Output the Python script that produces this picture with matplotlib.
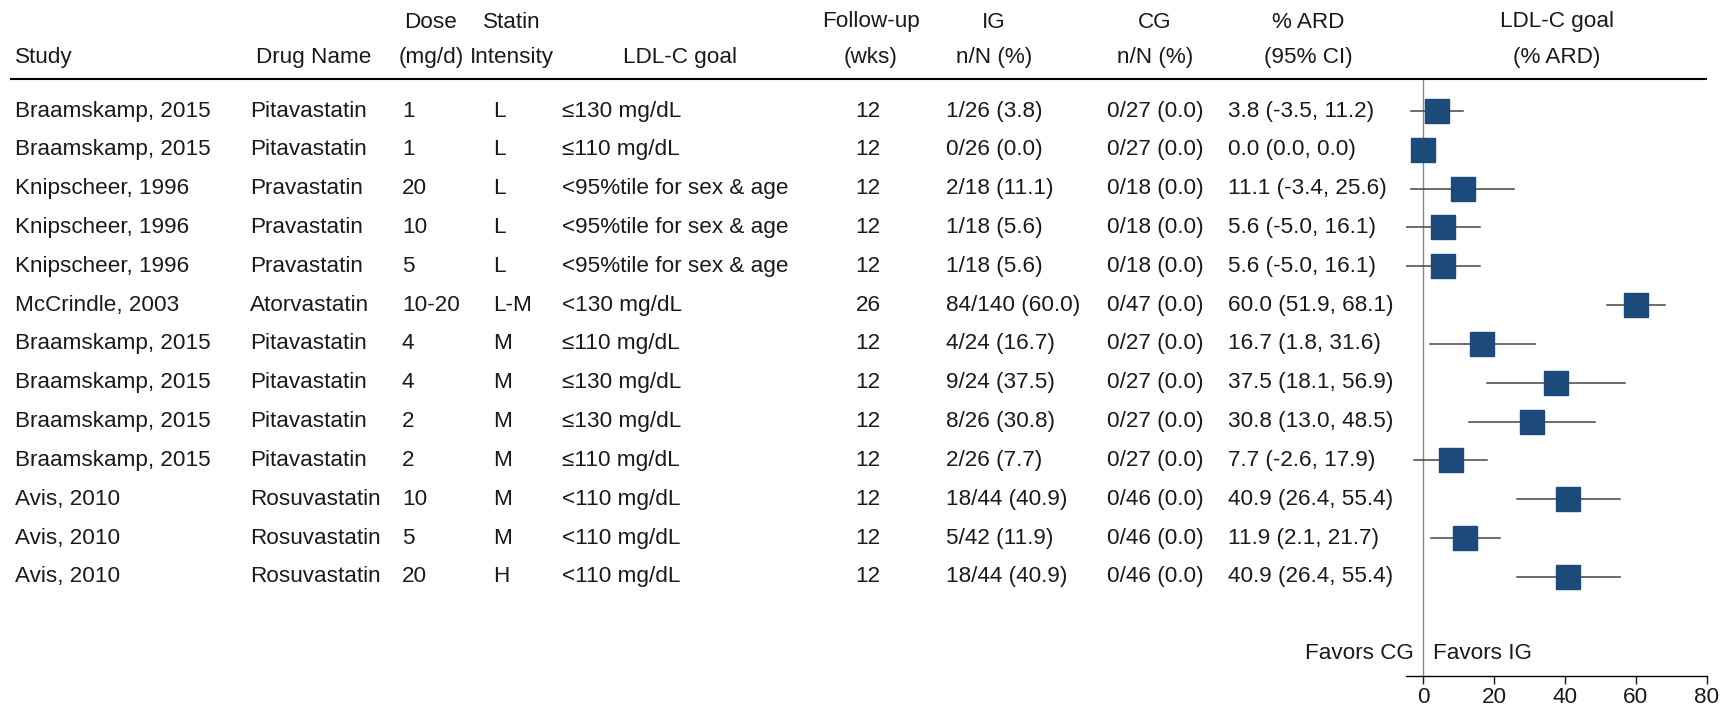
import matplotlib
matplotlib.use('Agg')
import matplotlib.pyplot as plt
from matplotlib.lines import Line2D
from matplotlib.transforms import blended_transform_factory

plt.rcParams['font.family'] = ['Liberation Sans', 'DejaVu Sans']

# study rows, top to bottom
studies = ['Braamskamp, 2015', 'Braamskamp, 2015', 'Knipscheer, 1996', 'Knipscheer, 1996',
           'Knipscheer, 1996', 'McCrindle, 2003', 'Braamskamp, 2015', 'Braamskamp, 2015',
           'Braamskamp, 2015', 'Braamskamp, 2015', 'Avis, 2010', 'Avis, 2010', 'Avis, 2010']
drugs = ['Pitavastatin', 'Pitavastatin', 'Pravastatin', 'Pravastatin', 'Pravastatin',
         'Atorvastatin', 'Pitavastatin', 'Pitavastatin', 'Pitavastatin', 'Pitavastatin',
         'Rosuvastatin', 'Rosuvastatin', 'Rosuvastatin']
doses = ['1', '1', '20', '10', '5', '10-20', '4', '4', '2', '2', '10', '5', '20']
intensity = ['L', 'L', 'L', 'L', 'L', 'L-M', 'M', 'M', 'M', 'M', 'M', 'M', 'H']
goals = ['≤130 mg/dL', '≤110 mg/dL', '<95%tile for sex & age', '<95%tile for sex & age',
         '<95%tile for sex & age', '<130 mg/dL', '≤110 mg/dL', '≤130 mg/dL', '≤130 mg/dL',
         '≤110 mg/dL', '<110 mg/dL', '<110 mg/dL', '<110 mg/dL']
followup = [12, 12, 12, 12, 12, 26, 12, 12, 12, 12, 12, 12, 12]
ig_n = [1, 0, 2, 1, 1, 84, 4, 9, 8, 2, 18, 5, 18]
ig_N = [26, 26, 18, 18, 18, 140, 24, 24, 26, 26, 44, 42, 44]
cg_n = [0] * 13
cg_N = [27, 27, 18, 18, 18, 47, 27, 27, 27, 27, 46, 46, 46]
ard = [3.8, 0.0, 11.1, 5.6, 5.6, 60.0, 16.7, 37.5, 30.8, 7.7, 40.9, 11.9, 40.9]
ard_lo = [-3.5, 0.0, -3.4, -5.0, -5.0, 51.9, 1.8, 18.1, 13.0, -2.6, 26.4, 2.1, 26.4]
ard_hi = [11.2, 0.0, 25.6, 16.1, 16.1, 68.1, 31.6, 56.9, 48.5, 17.9, 55.4, 21.7, 55.4]

W, H = 1730, 708
FS = 16.2
TXT = '#1a1a1a'
BOX = '#1b4a7b'

fig = plt.figure(figsize=(W / 100, H / 100), dpi=100)

# forest panel: x=-5..80, rows 0..12
y_rule = 79
row0, step = 111, 38.83
ax = fig.add_axes([1405.6 / W, (H - 676) / H, (1706.7 - 1405.6) / W, (676 - y_rule) / H])
ax.set_xlim(-5, 80)
ax.set_ylim(12 + (676 - 577) / step, -(row0 - y_rule) / step)

rows = list(range(len(studies)))
for i in rows:
    if ard_hi[i] > ard_lo[i]:
        ax.plot([ard_lo[i], ard_hi[i]], [i, i], color='#444444', lw=1.1, zorder=2)
ax.plot(ard, rows, 's', ms=17.5, color=BOX, mec=BOX, zorder=3)
ax.axvline(0, color='#8a8a8a', lw=1.0, zorder=1)

for s in ['top', 'right', 'left']:
    ax.spines[s].set_visible(False)
ax.spines['bottom'].set_linewidth(1.0)
ax.set_yticks([])
ax.set_xticks([0, 20, 40, 60, 80])
ax.tick_params(axis='x', length=6, width=1.0, pad=2, labelsize=FS, colors=TXT)

y_fav = (653 - row0) / step
ax.text(-2.6, y_fav, 'Favors CG', ha='right', va='center', fontsize=FS, color=TXT)
ax.text(2.7, y_fav, 'Favors IG', ha='left', va='center', fontsize=FS, color=TXT)

# table columns drawn in figure-x / row-y space
tr = blended_transform_factory(fig.transFigure, ax.transData)


def col(x, values, ha='left'):
    for i, v in enumerate(values):
        ax.text(x / W, i, v, transform=tr, ha=ha, va='center', fontsize=FS,
                color=TXT, clip_on=False)


col(15, studies)
col(250, drugs)
col(402, doses)
col(493, intensity)
col(562, goals)
col(868, [str(f) for f in followup], ha='center')
col(946, ['%d/%d (%.1f)' % (n, N, 100 * n / N) for n, N in zip(ig_n, ig_N)])
col(1107, ['%d/%d (%.1f)' % (n, N, 100 * n / N) for n, N in zip(cg_n, cg_N)])
col(1228, ['%.1f (%.1f, %.1f)' % (a, l, h) for a, l, h in zip(ard, ard_lo, ard_hi)])

# two-line column headers
headers = [
    (15, 'left', '', 'Study'),
    (256, 'left', '', 'Drug Name'),
    (431, 'center', 'Dose', '(mg/d)'),
    (512, 'center', 'Statin', 'Intensity'),
    (680, 'center', '', 'LDL-C goal'),
    (871, 'center', 'Follow-up', '(wks)'),
    (994, 'center', 'IG', 'n/N (%)'),
    (1155, 'center', 'CG', 'n/N (%)'),
    (1308, 'center', '% ARD', '(95% CI)'),
    (1557, 'center', 'LDL-C goal', '(% ARD)'),
]
for x, ha, top, bottom in headers:
    if top:
        fig.text(x / W, 1 - 22 / H, top, ha=ha, va='center', fontsize=FS, color=TXT)
    fig.text(x / W, 1 - 57 / H, bottom, ha=ha, va='center', fontsize=FS, color=TXT)

fig.add_artist(Line2D([11 / W, 1706 / W], [1 - y_rule / H] * 2, color='black', lw=1.5,
                      transform=fig.transFigure))

fig.savefig('out.png', dpi=100)
